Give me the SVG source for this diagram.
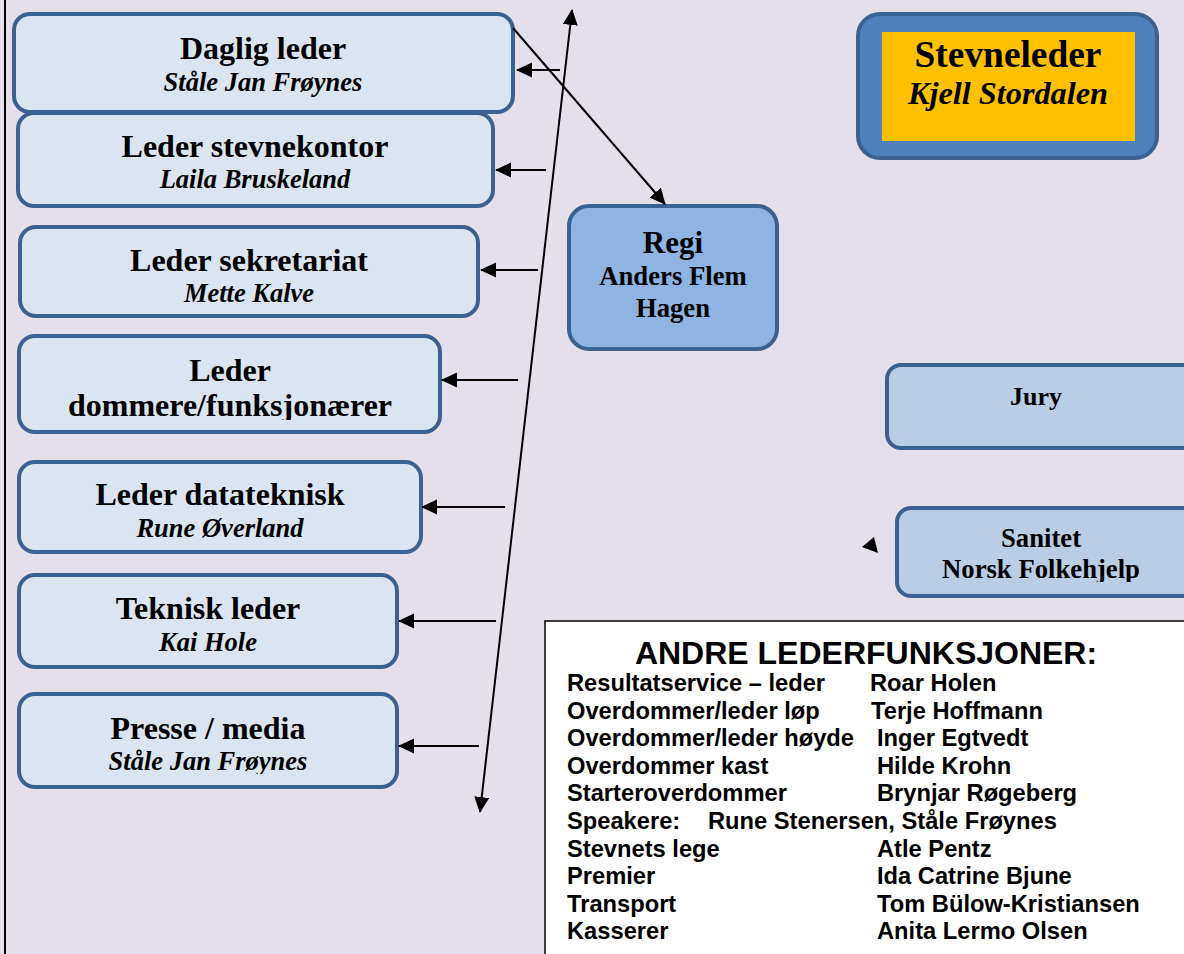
<svg xmlns="http://www.w3.org/2000/svg" width="1184" height="954" viewBox="0 0 1184 954">
<style>
.box{fill:#DBE5F1;stroke:#3B6190;stroke-width:4}
.regi{fill:#8EB4E3;stroke:#3B6190;stroke-width:4}
.side{fill:#B9CDE5;stroke:#3B6190;stroke-width:4}
.t{font-family:"Liberation Serif","Times New Roman",serif;font-weight:bold;fill:#000;text-anchor:middle}
.ti{font-family:"Liberation Serif","Times New Roman",serif;font-weight:bold;font-style:italic;fill:#000;text-anchor:middle}
.a{font-family:"Liberation Sans",Arial,sans-serif;font-weight:bold;fill:#000;font-size:23.7px}
.c{stroke:#000;stroke-width:2;fill:none}
</style>
<defs>
<marker id="ah" markerUnits="userSpaceOnUse" markerWidth="18" markerHeight="16" refX="15" refY="7.5" orient="auto-start-reverse"><path d="M0,0 L16,7.5 L0,15 Z" fill="#000"/></marker>
<clipPath id="c1"><rect x="0" y="0" width="1184" height="420"/></clipPath>
<clipPath id="c2"><rect x="0" y="0" width="1184" height="774"/></clipPath>
<clipPath id="c3"><rect x="0" y="0" width="1184" height="582"/></clipPath>
</defs>
<rect width="1184" height="954" fill="#E5DFEC"/>
<line x1="5" y1="0" x2="5" y2="954" stroke="#000" stroke-width="2"/>

<g id="daglig-leder"><rect class="box" x="14" y="14" width="499" height="98" rx="16"/>
<text class="t" x="263" y="59" font-size="32">Daglig leder</text>
<text class="ti" x="263" y="91" font-size="26.5">Ståle Jan Frøynes</text></g>

<g id="leder-stevnekontor"><rect class="box" x="18" y="113" width="475" height="93" rx="16"/>
<text class="t" x="255" y="157" font-size="32">Leder stevnekontor</text>
<text class="ti" x="255" y="188" font-size="26.5">Laila Bruskeland</text></g>

<g id="leder-sekretariat"><rect class="box" x="20" y="227" width="458" height="89" rx="16"/>
<text class="t" x="249" y="271" font-size="32">Leder sekretariat</text>
<text class="ti" x="249" y="302" font-size="26.5">Mette Kalve</text></g>

<g id="leder-dommere"><rect class="box" x="19" y="336" width="421" height="96" rx="16"/>
<text class="t" x="230" y="381" font-size="32">Leder</text>
<text class="t" x="230" y="416" font-size="32" clip-path="url(#c1)">dommere/funksjonærer</text></g>

<g id="leder-datateknisk"><rect class="box" x="19" y="462" width="402" height="90" rx="16"/>
<text class="t" x="220" y="505" font-size="32">Leder datateknisk</text>
<text class="ti" x="220" y="537" font-size="26.5">Rune Øverland</text></g>

<g id="teknisk-leder"><rect class="box" x="19" y="575" width="378" height="92" rx="16"/>
<text class="t" x="208" y="619" font-size="32">Teknisk leder</text>
<text class="ti" x="208" y="651" font-size="26.5">Kai Hole</text></g>

<g id="presse-media"><rect class="box" x="19" y="694" width="378" height="93" rx="16"/>
<text class="t" x="208" y="739" font-size="32">Presse / media</text>
<text class="ti" x="208" y="770" font-size="26.5" clip-path="url(#c2)">Ståle Jan Frøynes</text></g>

<g id="regi"><rect class="regi" x="569" y="206" width="208" height="143" rx="20"/>
<text class="t" x="673" y="253" font-size="31">Regi</text>
<text class="t" x="673" y="285" font-size="26.7">Anders Flem</text>
<text class="t" x="673" y="317" font-size="26.7">Hagen</text></g>

<g id="stevneleder"><rect x="858" y="14" width="299" height="144" rx="22" fill="#4F81BD" stroke="#3B6190" stroke-width="4"/>
<rect x="882" y="32" width="253" height="109" fill="#FFC000"/>
<text class="t" x="1008" y="67" font-size="37.4">Stevneleder</text>
<text class="ti" x="1008" y="104" font-size="32.3">Kjell Stordalen</text></g>

<g id="jury"><rect class="side" x="887" y="365" width="310" height="83" rx="14"/>
<text class="t" x="1036" y="405" font-size="26">Jury</text></g>

<g id="sanitet"><rect class="side" x="897" y="508" width="300" height="88" rx="14"/>
<text class="t" x="1041" y="547" font-size="26.7">Sanitet</text>
<text class="t" x="1041" y="578" font-size="26.7" clip-path="url(#c3)">Norsk Folkehjelp</text></g>

<g id="andre-lederfunksjoner">
<rect x="545" y="621" width="660" height="360" fill="#FFFFFF" stroke="#000" stroke-width="1.5"/>
<text x="866" y="664" font-family="Liberation Sans, Arial, sans-serif" font-weight="bold" font-size="32" text-anchor="middle">ANDRE LEDERFUNKSJONER:</text>
<text class="a" x="567" y="691">Resultatservice – leder</text><text class="a" x="870" y="691">Roar Holen</text>
<text class="a" x="567" y="719">Overdommer/leder løp</text><text class="a" x="871" y="719">Terje Hoffmann</text>
<text class="a" x="567" y="746">Overdommer/leder høyde</text><text class="a" x="877" y="746">Inger Egtvedt</text>
<text class="a" x="567" y="774">Overdommer kast</text><text class="a" x="877" y="774">Hilde Krohn</text>
<text class="a" x="567" y="801">Starteroverdommer</text><text class="a" x="877" y="801">Brynjar Røgeberg</text>
<text class="a" x="567" y="829">Speakere:</text><text class="a" x="708" y="829">Rune Stenersen, Ståle Frøynes</text>
<text class="a" x="567" y="857">Stevnets lege</text><text class="a" x="877" y="857">Atle Pentz</text>
<text class="a" x="567" y="884">Premier</text><text class="a" x="877" y="884">Ida Catrine Bjune</text>
<text class="a" x="567" y="912">Transport</text><text class="a" x="877" y="912">Tom Bülow-Kristiansen</text>
<text class="a" x="567" y="939">Kasserer</text><text class="a" x="877" y="939">Anita Lermo Olsen</text>
</g>

<g id="connectors">
<line class="c" x1="480" y1="812" x2="572" y2="10" marker-start="url(#ah)" marker-end="url(#ah)"/>
<line class="c" x1="513" y1="28" x2="665" y2="204" marker-end="url(#ah)"/>
<line class="c" x1="560" y1="70" x2="517" y2="70" marker-end="url(#ah)"/>
<line class="c" x1="546" y1="170" x2="496" y2="170" marker-end="url(#ah)"/>
<line class="c" x1="538" y1="270" x2="481" y2="270" marker-end="url(#ah)"/>
<line class="c" x1="518" y1="380" x2="442" y2="380" marker-end="url(#ah)"/>
<line class="c" x1="505" y1="507" x2="422" y2="507" marker-end="url(#ah)"/>
<line class="c" x1="496" y1="621" x2="399" y2="621" marker-end="url(#ah)"/>
<line class="c" x1="479" y1="746" x2="399" y2="746" marker-end="url(#ah)"/>
<polygon points="862,547 874,537 878,553" fill="#000"/>
</g>
</svg>
